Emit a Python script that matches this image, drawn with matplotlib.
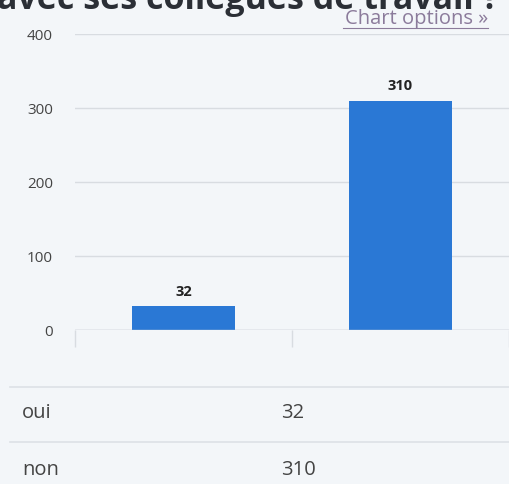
import matplotlib
matplotlib.use('Agg')
from matplotlib import pyplot as plt

plt.rcParams['font.family'] = ['Open Sans', 'DejaVu Sans']

categories = ['oui', 'non']
values = [32, 310]
y_ticks = [0, 100, 200, 300, 400]
title = 'avec ses collègues de travail ?'

bg = '#f3f6f9'
bar_color = '#2a78d5'
grid_color = '#d8dce1'

fig = plt.figure(figsize=(5.10, 4.84), dpi=100, facecolor=bg)
W, H = 510, 484

# plot area: x 75..509 px, y 34..330 px
ax = fig.add_axes([75 / W, 1 - 330 / H, 434 / W, 296 / H])
ax.set_facecolor(bg)

x = range(len(categories))
bars = ax.bar(x, values, width=0.475, color=bar_color, zorder=3)
for b, v in zip(bars, values):
    ax.text(b.get_x() + b.get_width() / 2, v + 10, str(v), ha='center', va='bottom',
            fontsize=10.5, fontweight='bold', color='#222222')

ax.set_xlim(-0.5, len(categories) - 0.5)
ax.set_ylim(0, 400)
ax.set_yticks(y_ticks)
ax.set_yticklabels([str(t) for t in y_ticks])
ax.yaxis.grid(True, color=grid_color, linewidth=1, zorder=0)
ax.tick_params(axis='y', length=0, pad=16, labelsize=11, labelcolor='#444444')
for s in ax.spines.values():
    s.set_visible(False)
ax.axhline(0, color='#c8ccd1', linewidth=1, zorder=4)

# category tick separators below the axis
ax.set_xticks([-0.5, 0.5, 1.5])
ax.set_xticklabels(['', '', ''])
ax.tick_params(axis='x', length=12, width=1, color='#d8dce1', direction='out')

# title, clipped at the top
fig.text(-3 / W, 1 - 9 / H, title, ha='left', va='baseline', fontsize=24.5,
         fontweight='bold', color='#2b2f36')

# chart options link
fig.text(488 / W, 1 - 24 / H, 'Chart options »', ha='right', va='baseline',
         fontsize=14.5, color='#8b7b9b')
fig.add_artist(plt.Line2D([343 / W, 488 / W], [1 - 28 / H, 1 - 28 / H],
                          color='#8b7b9b', linewidth=0.8))

# data table below
for yy in [387, 442]:
    fig.add_artist(plt.Line2D([10 / W, 1.0], [1 - yy / H, 1 - yy / H],
                              color='#dde1e6', linewidth=1.2))
for i, (c, v) in enumerate(zip(categories, values)):
    yy = 1 - (413 + 57 * i) / H
    fig.text(22 / W, yy, c, ha='left', va='center', fontsize=14.5, color='#444444')
    fig.text(281 / W, yy, str(v), ha='left', va='center', fontsize=14.5, color='#444444')

fig.savefig('out.png', dpi=100, facecolor=bg)
